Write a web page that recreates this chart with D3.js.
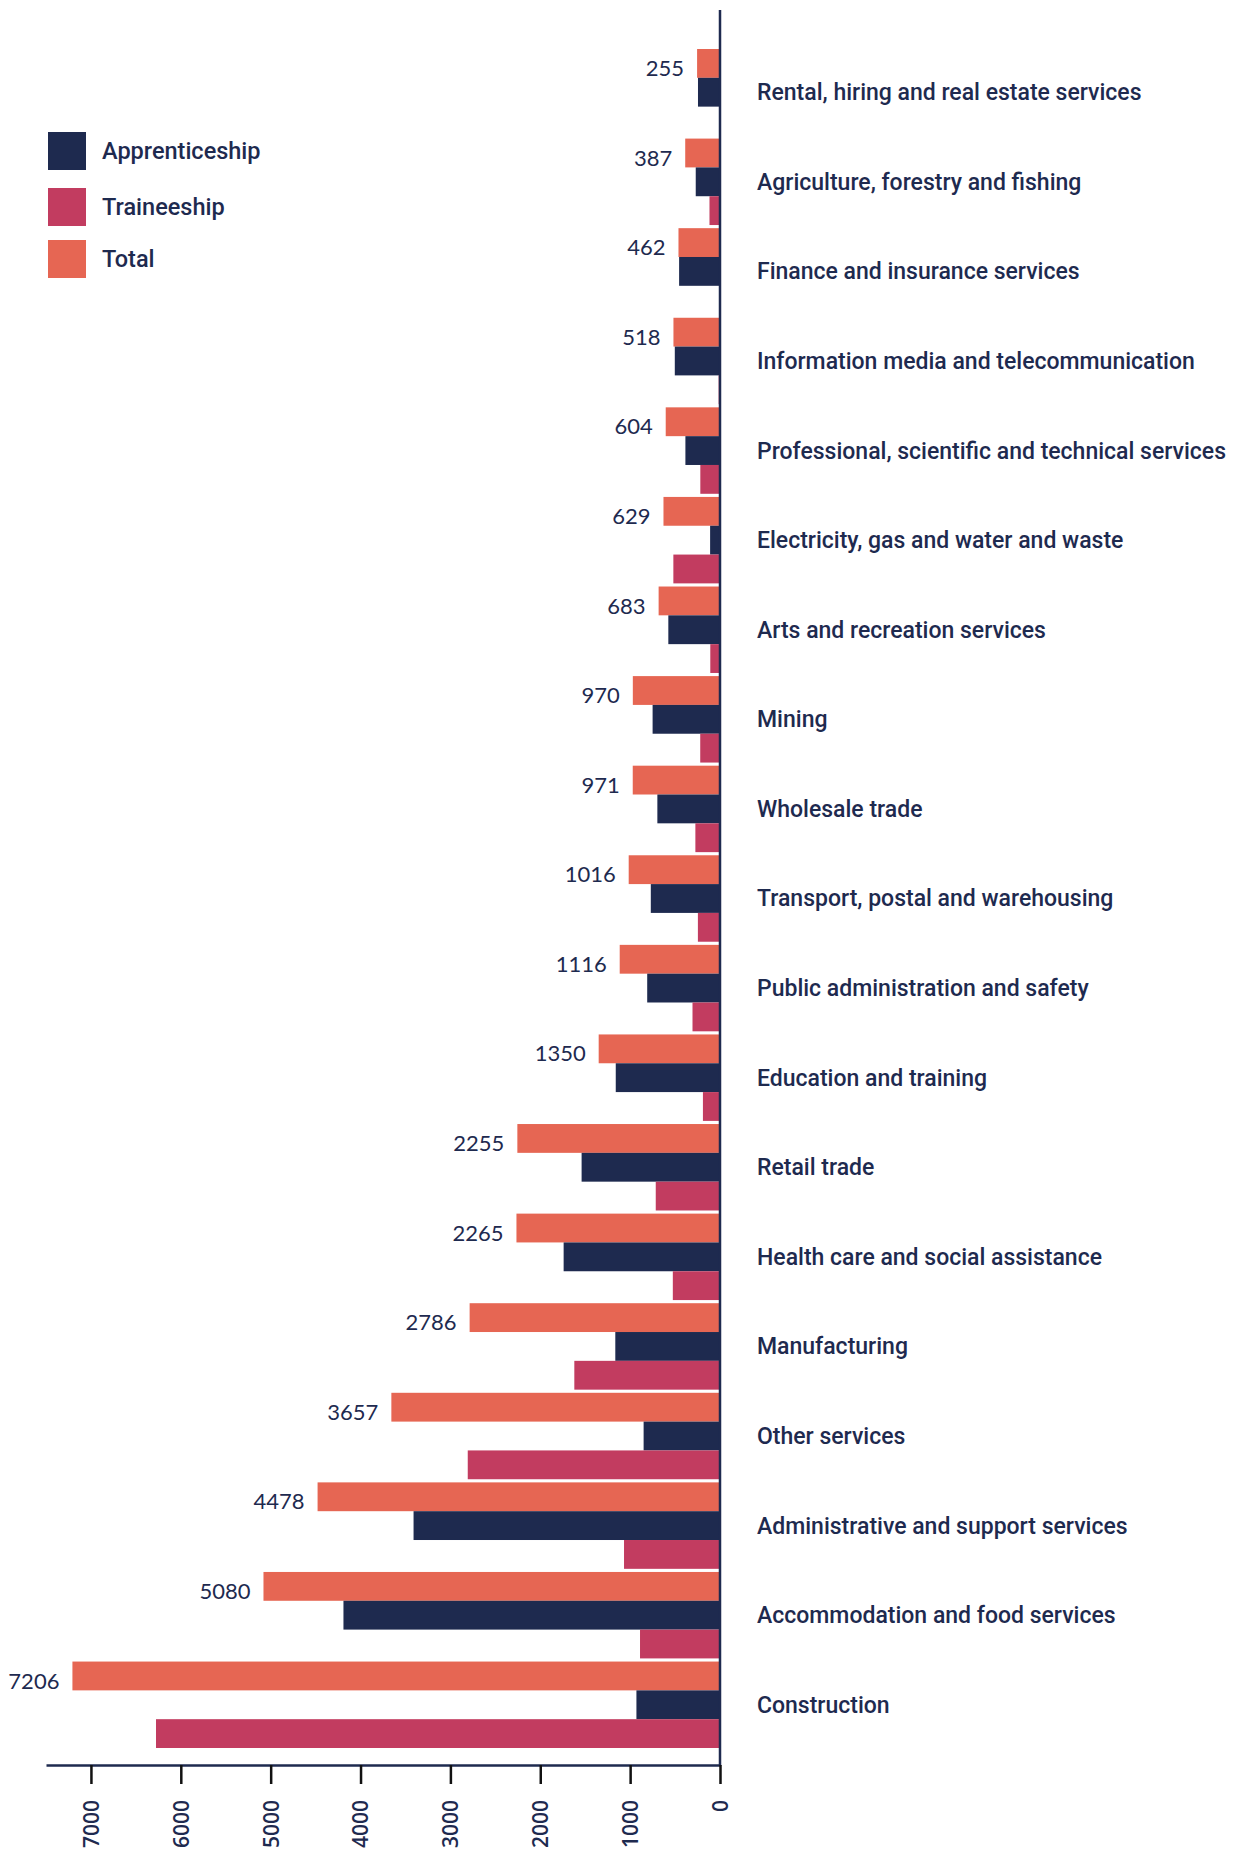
<!DOCTYPE html>
<html>
<head>
<meta charset="utf-8">
<script src="https://cdn.jsdelivr.net/npm/d3@7"></script>
<style>
  body { margin: 0; background: #fff; }
</style>
</head>
<body>
<div id="chart"></div>
<script>
// industries, top to bottom
var categories = ["Rental, hiring and real estate services", "Agriculture, forestry and fishing",
    "Finance and insurance services", "Information media and telecommunication",
    "Professional, scientific and technical services", "Electricity, gas and water and waste",
    "Arts and recreation services", "Mining", "Wholesale trade", "Transport, postal and warehousing",
    "Public administration and safety", "Education and training", "Retail trade",
    "Health care and social assistance", "Manufacturing", "Other services",
    "Administrative and support services", "Accommodation and food services", "Construction"];

var totalValues = [255, 387, 462, 518, 604, 629, 683, 970, 971, 1016, 1116, 1350, 2255, 2265, 2786, 3657, 4478, 5080, 7206];
var apprenticeValues = [245, 270, 455, 503, 385, 110, 575, 750, 697, 770, 810, 1160, 1540, 1740, 1165, 850, 3410, 4190, 930];
var traineeValues = [10, 117, 7, 15, 219, 519, 108, 220, 274, 246, 306, 190, 715, 525, 1621, 2807, 1068, 890, 6276];

var seriesNames = ["Total", "Apprenticeship", "Traineeship"];
var legendNames = ["Apprenticeship", "Traineeship", "Total"];
var tickValues = [0, 1000, 2000, 3000, 4000, 5000, 6000, 7000];

var colors = {"Apprenticeship": "#1e2a4f", "Traineeship": "#c23c60", "Total": "#e66653"};
var navy = "#1e2a4f";

var rows = categories.map(function(c, i){
    return {key: c, Total: totalValues[i], Apprenticeship: apprenticeValues[i], Traineeship: traineeValues[i]};
});

var W = 1241, H = 1852;
var svg = d3.select("#chart").append("svg")
    .attr("width", W)
    .attr("height", H);

// x runs right to left, zero at the vertical axis
var x = d3.scaleLinear()
    .domain([0, 7500])
    .range([720, 46]);

var y = d3.scaleBand()
    .domain(categories)
    .range([49, 1748])
    .paddingInner(0.035);

var ySub = d3.scaleBand()
    .domain(seriesNames)
    .range([0, y.bandwidth()]);

// bars
var groups = svg.selectAll("g.row")
    .data(rows)
    .enter()
    .append("g")
      .attr("class", "row")
      .attr("transform", function(d){ return "translate(0," + y(d.key) + ")"; });

groups.selectAll("rect")
    .data(function(d){ return seriesNames.map(function(s){ return {s: s, v: d[s]}; }); })
    .enter()
    .append("rect")
      .attr("x", function(d){ return x(d.v); })
      .attr("y", function(d){ return ySub(d.s); })
      .attr("width", function(d){ return x(0) - x(d.v); })
      .attr("height", ySub.bandwidth())
      .style("fill", function(d){ return colors[d.s]; });

// total value labels
groups.append("text")
    .attr("x", function(d){ return x(d.Total) - 13; })
    .attr("y", ySub("Total") + ySub.bandwidth() / 2 + 7)
    .attr("text-anchor", "end")
    .attr("dominant-baseline", "middle")
    .style("font-family", "Lato")
    .style("font-size", "22px")
    .style("fill", navy)
    .text(function(d){ return d.Total; });

// category labels, caps centred on the apprenticeship bar
groups.append("text")
    .attr("x", 757)
    .attr("y", ySub("Apprenticeship") + ySub.bandwidth() / 2 + 8)
    .style("font-family", "Roboto")
    .style("font-weight", 500)
    .style("font-size", "23px")
    .style("fill", navy)
    .text(function(d){ return d.key; });

// vertical zero line
svg.append("line")
    .attr("x1", x(0)).attr("x2", x(0))
    .attr("y1", 10).attr("y2", 1766)
    .attr("stroke", navy)
    .attr("stroke-width", 2.5);

// bottom axis
var xAxis = svg.append("g")
    .attr("transform", "translate(0,1765)")
    .call(d3.axisBottom(x).tickValues(tickValues).tickFormat(d3.format("d"))
        .tickSize(19).tickPadding(10).tickSizeOuter(0));
xAxis.select(".domain").attr("stroke", navy).attr("stroke-width", 2.5);
xAxis.selectAll(".tick line").attr("stroke", "#111").attr("stroke-width", 2.5);
xAxis.selectAll("text")
    .attr("transform", "rotate(-90)")
    .attr("text-anchor", "end")
    .attr("x", -35)
    .attr("y", 0)
    .attr("dy", "0.35em")
    .style("font-family", "Open Sans")
    .style("font-weight", 600)
    .style("font-size", "21px")
    .style("fill", navy);

// legend
var legend = svg.selectAll("g.legend")
    .data(legendNames)
    .enter()
    .append("g")
      .attr("class", "legend")
      .attr("transform", function(d, i){ return "translate(48," + [132, 188, 240][i] + ")"; });
legend.append("rect")
    .attr("width", 38)
    .attr("height", 38)
    .style("fill", function(d){ return colors[d]; });
legend.append("text")
    .attr("x", 54)
    .attr("y", 21)
    .attr("dominant-baseline", "middle")
    .style("font-family", "Roboto")
    .style("font-weight", 500)
    .style("font-size", "23.5px")
    .style("fill", navy)
    .text(function(d){ return d; });
</script>
</body>
</html>
